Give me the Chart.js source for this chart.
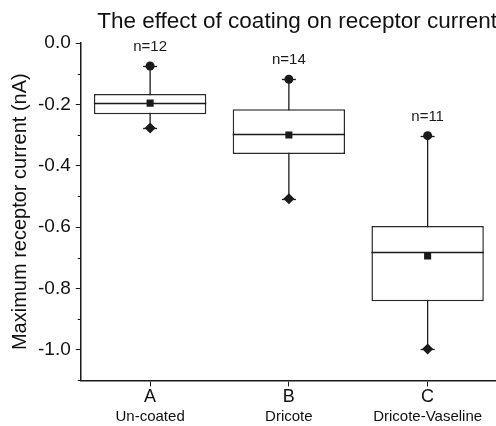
<!DOCTYPE html>
<html lang="en">
<head>
    <meta charset="UTF-8">
    <title>The effect of coating on receptor current</title>
    <script src="https://cdn.jsdelivr.net/npm/chart.js"></script>
    <style>
        body {
            margin: 0;
            padding: 0;
            background: #fff;
            overflow: hidden;
        }
        #wrap {
            width: 496px;
            height: 426px;
            overflow: hidden;
        }
    </style>
</head>
<body>
    <div id="wrap">
        <canvas id="box-chart" width="510" height="426"></canvas>
    </div>

    <script>
        // data
        const categories = ["A", "B", "C"];
        const groupNames = ["Un-coated", "Dricote", "Dricote-Vaseline"];
        const sampleSizes = [12, 14, 11];
        const maxValues = [-0.075, -0.118, -0.302];
        const q3Values = [-0.166, -0.216, -0.597];
        const medianValues = [-0.195, -0.298, -0.682];
        const meanValues = [-0.196, -0.300, -0.694];
        const q1Values = [-0.232, -0.362, -0.842];
        const minValues = [-0.277, -0.508, -0.998];

        const ink = "#1a1a1a";
        const fontFamily = "'Liberation Sans', Arial, sans-serif";

        const isMajor = (v) => Math.round(v * 10) % 2 === 0;

        // whiskers, caps, medians and n= labels
        const boxExtras = {
            id: "boxExtras",
            beforeDatasetsDraw(chart) {
                const { ctx, scales: { x, y } } = chart;
                ctx.save();
                ctx.strokeStyle = ink;
                ctx.lineWidth = 1.3;
                categories.forEach((c, i) => {
                    const px = x.getPixelForValue(i);
                    ctx.beginPath();
                    ctx.moveTo(px, y.getPixelForValue(maxValues[i]));
                    ctx.lineTo(px, y.getPixelForValue(minValues[i]));
                    ctx.stroke();
                });
                ctx.restore();
            },
            afterDatasetsDraw(chart) {
                const { ctx, scales: { x, y } } = chart;
                const meta = chart.getDatasetMeta(0);
                ctx.save();
                ctx.strokeStyle = ink;
                ctx.lineWidth = 1.3;
                categories.forEach((c, i) => {
                    const px = x.getPixelForValue(i);
                    const half = meta.data[i].width / 2;
                    // median line
                    const my = Math.round(y.getPixelForValue(medianValues[i])) + 0.5;
                    ctx.beginPath();
                    ctx.moveTo(px - half, my);
                    ctx.lineTo(px + half, my);
                    ctx.stroke();
                    // whisker caps
                    [maxValues[i], minValues[i]].forEach((v) => {
                        const cy = Math.round(y.getPixelForValue(v)) + 0.5;
                        ctx.beginPath();
                        ctx.moveTo(px - 7, cy);
                        ctx.lineTo(px + 7, cy);
                        ctx.stroke();
                    });
                    // n= label
                    ctx.fillStyle = ink;
                    ctx.font = "15px " + fontFamily;
                    ctx.textAlign = "center";
                    ctx.textBaseline = "middle";
                    ctx.fillText("n=" + sampleSizes[i], px, y.getPixelForValue(maxValues[i]) - 19);
                });
                ctx.restore();
            },
            afterDraw(chart) {
                // short minor ticks on the y axis
                const { ctx, scales: { y } } = chart;
                ctx.save();
                ctx.strokeStyle = ink;
                ctx.lineWidth = 1;
                y.ticks.forEach((t) => {
                    if (isMajor(t.value)) return;
                    const py = Math.round(y.getPixelForValue(t.value)) + 0.5;
                    ctx.beginPath();
                    ctx.moveTo(y.right - 3, py);
                    ctx.lineTo(y.right, py);
                    ctx.stroke();
                });
                ctx.restore();
            }
        };

        const ctxBox = document.getElementById("box-chart").getContext("2d");
        const boxChart = new Chart(ctxBox, {
            type: "bar",
            data: {
                labels: categories,
                datasets: [
                    {
                        label: "Box",
                        order: 10,
                        data: categories.map((c, i) => [q1Values[i], q3Values[i]]),
                        backgroundColor: "#ffffff",
                        borderColor: "#2a2a2a",
                        borderWidth: 1.5,
                        borderSkipped: false,
                        categoryPercentage: 0.81,
                        barPercentage: 1
                    },
                    {
                        type: "line",
                        label: "Mean",
                        order: 1,
                        data: meanValues,
                        showLine: false,
                        pointStyle: "rect",
                        pointRadius: 5,
                        backgroundColor: ink,
                        borderColor: ink,
                        borderWidth: 0
                    },
                    {
                        type: "line",
                        label: "Max",
                        order: 1,
                        data: maxValues,
                        showLine: false,
                        pointStyle: "circle",
                        pointRadius: 4.5,
                        backgroundColor: ink,
                        borderColor: ink,
                        borderWidth: 0
                    },
                    {
                        type: "line",
                        label: "Min",
                        order: 1,
                        data: minValues,
                        showLine: false,
                        pointStyle: "rectRot",
                        pointRadius: 5.5,
                        backgroundColor: ink,
                        borderColor: ink,
                        borderWidth: 0
                    }
                ]
            },
            options: {
                responsive: false,
                animation: false,
                devicePixelRatio: 1,
                layout: {
                    padding: { left: 3, right: 13, top: 0, bottom: 0 }
                },
                plugins: {
                    legend: { display: false },
                    tooltip: { enabled: false },
                    title: {
                        display: true,
                        align: "end",
                        text: "The effect of coating on receptor current",
                        color: "#111",
                        font: { family: fontFamily, size: 22.5, weight: "normal" },
                        padding: { top: 8, bottom: 8 }
                    }
                },
                scales: {
                    x: {
                        offset: true,
                        grid: {
                            display: true,
                            offset: false,
                            drawOnChartArea: false,
                            tickLength: 6,
                            tickColor: ink
                        },
                        border: { display: true, color: ink, width: 1.5 },
                        ticks: {
                            color: "#111",
                            padding: 0,
                            font: { family: fontFamily, size: 18 }
                        }
                    },
                    x2: {
                        type: "category",
                        position: "bottom",
                        labels: groupNames,
                        offset: true,
                        grid: { display: false, drawTicks: false },
                        border: { display: false },
                        ticks: {
                            color: "#111",
                            padding: 0,
                            font: { family: fontFamily, size: 15 }
                        }
                    },
                    y: {
                        min: -1.1,
                        max: 0,
                        grid: {
                            display: true,
                            drawOnChartArea: false,
                            tickLength: 5,
                            tickColor: (c) => (c.tick && isMajor(c.tick.value) ? ink : "rgba(0,0,0,0)")
                        },
                        border: { display: true, color: ink, width: 1.5 },
                        ticks: {
                            stepSize: 0.1,
                            color: "#111",
                            padding: 5,
                            font: { family: fontFamily, size: 19 },
                            callback: (v) => (isMajor(v) ? Number(v).toFixed(1) : "")
                        },
                        title: {
                            display: true,
                            text: "Maximum receptor current (nA)",
                            color: "#111",
                            font: { family: fontFamily, size: 20 },
                            padding: { top: 5, bottom: 1 }
                        }
                    }
                }
            },
            plugins: [boxExtras]
        });
    </script>
</body>
</html>
